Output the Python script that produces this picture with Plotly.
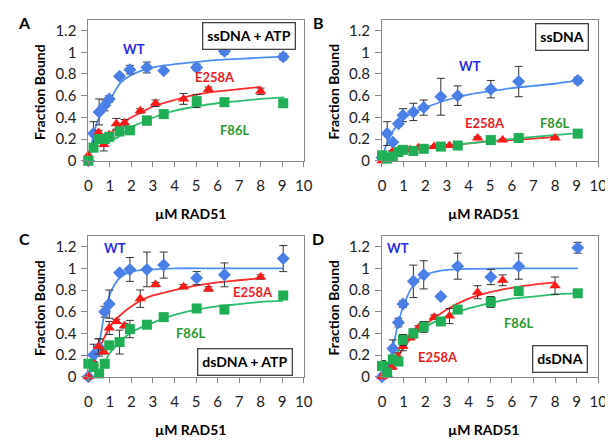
"""
RAD51 binding curves: fraction bound vs RAD51 concentration
four panels (ssDNA/dsDNA, with/without ATP)
"""

import plotly.graph_objects as go

# concentrations (uM)
X_WT = [0, 0.24, 0.5, 0.76, 0.97, 1.45, 1.93, 2.72, 3.5, 5.03, 6.32, 9.05]
X_E258A = [0, 0.24, 0.47, 0.72, 0.97, 1.3, 1.68, 2.41, 3.12, 4.42, 5.58, 8.0]
X_F86L = X_WT

# Panel A - ssDNA + ATP
A_WT = [0.0, 0.25, 0.45, 0.51, 0.57, 0.78, 0.84, 0.86, 0.83, 0.86, 1.01, 0.96]
A_WT_ERR = [0, 0.11, 0.12, 0.05, 0.03, 0.02, 0.04, 0.05, 0, 0.03, 0.03, 0.03]
A_E258A = [0.05, None, 0.26, 0.15, 0.24, 0.34, 0.35, 0.46, 0.53, 0.57, 0.66, 0.64]
A_E258A_ERR = [0.03, 0, 0.02, 0.06, 0.02, 0.05, 0.03, 0.02, 0.03, 0.05, 0.02, 0.03]
A_F86L = [0.0, 0.12, 0.20, 0.20, 0.22, 0.27, 0.28, 0.37, 0.43, 0.55, 0.54, 0.53]
A_F86L_ERR = [0, 0.02, 0.02, 0.02, 0.03, 0.02, 0.01, 0.04, 0.02, 0.06, 0.03, 0.02]

# Panel B - ssDNA
B_WT = [0.03, 0.25, 0.17, 0.34, 0.42, 0.45, 0.49, 0.59, 0.60, 0.66, 0.73, 0.74]
B_WT_ERR = [0, 0.11, 0.01, 0.02, 0.06, 0.08, 0.07, 0.17, 0.09, 0.08, 0.14, 0.03]
B_E258A = [0.0, 0.02, 0.08, 0.09, 0.10, 0.10, 0.12, 0.13, 0.14, 0.21, 0.19, 0.21]
B_E258A_ERR = [0.01] * 12
B_F86L = [0.05, 0.02, 0.04, 0.08, 0.10, 0.09, 0.11, 0.13, 0.14, 0.19, 0.21, 0.25]
B_F86L_ERR = [0.01] * 12

# Panel C - dsDNA + ATP
C_WT = [0.0, 0.20, 0.27, 0.60, 0.67, 0.96, 0.99, 0.99, 1.03, 0.91, 0.94, 1.09]
C_WT_ERR = [0, 0.10, 0.08, 0.05, 0.13, 0, 0.11, 0.16, 0.12, 0.06, 0.11, 0.12]
C_E258A = [0.0, 0.12, 0.28, 0.23, 0.45, 0.51, 0.47, 0.72, 0.85, 0.83, 0.81, 0.92]
C_E258A_ERR = [0, 0.02, 0.07, 0.02, 0.06, 0.02, 0.02, 0.08, 0.02, 0.02, 0.02, 0.02]
C_F86L = [0.12, 0.09, 0.03, 0.12, 0.29, 0.32, 0.44, 0.48, 0.55, 0.63, 0.62, 0.75]
C_F86L_ERR = [0.02, 0.02, 0.01, 0.02, 0.02, 0.11, 0.08, 0.02, 0.03, 0.02, 0.01, 0.02]

# Panel D - dsDNA
D_WT = [0.0, 0.08, 0.26, 0.50, 0.67, 0.88, 0.94, 0.74, 1.02, 0.92, 1.02, 1.19]
D_WT_ERR = [0, 0.05, 0.08, 0.04, 0.03, 0.15, 0.13, 0.02, 0.12, 0.07, 0.12, 0.05]
D_E258A = [0.0, 0.02, 0.09, 0.19, 0.28, 0.36, 0.45, 0.55, 0.56, 0.78, 0.89, 0.84]
D_E258A_ERR = [0.01, 0.01, 0.02, 0.03, 0.04, 0.02, 0.02, 0.02, 0.07, 0.06, 0.05, 0.08]
D_F86L = [0.10, 0.04, 0.16, 0.14, 0.34, 0.40, 0.46, 0.51, 0.62, 0.69, 0.79, 0.77]
D_F86L_ERR = [0.05, 0.02, 0.02, 0.02, 0.05, 0.04, 0.05, 0.01, 0.02, 0.05, 0.01, 0.01]

# fitted curves
A_WT_FIT_X = [0.1, 0.2, 0.35, 0.5, 0.75, 1, 1.5, 2, 3, 4, 5, 6, 7, 8, 9.1]
A_WT_FIT_Y = [0.08, 0.2, 0.32, 0.4, 0.49, 0.56, 0.72, 0.79, 0.86, 0.89, 0.91, 0.93, 0.94, 0.95, 0.96]
A_E258A_FIT_X = [0.75, 1, 1.5, 2, 2.5, 3, 4, 5, 6, 7, 8]
A_E258A_FIT_Y = [0.21, 0.25, 0.33, 0.4, 0.45, 0.5, 0.56, 0.61, 0.64, 0.66, 0.68]
A_F86L_FIT_X = [0.95, 1.4, 2, 2.8, 3.6, 5, 6, 7, 8, 9.1]
A_F86L_FIT_Y = [0.18, 0.22, 0.31, 0.38, 0.44, 0.5, 0.53, 0.55, 0.57, 0.585]

B_WT_FIT_X = [0, 0.25, 0.5, 1, 1.5, 2, 3, 4, 5, 6, 7, 8, 9.05]
B_WT_FIT_Y = [0.03, 0.17, 0.27, 0.39, 0.45, 0.49, 0.56, 0.61, 0.64, 0.67, 0.69, 0.71, 0.74]
B_E258A_FIT_X = [0, 0.5, 1, 2, 3, 4, 5, 6, 8]
B_E258A_FIT_Y = [0.02, 0.07, 0.09, 0.12, 0.14, 0.16, 0.18, 0.19, 0.22]
B_F86L_FIT_X = [0, 0.5, 1, 2, 3, 4, 5, 6, 7, 9.05]
B_F86L_FIT_Y = [0.03, 0.06, 0.09, 0.12, 0.14, 0.16, 0.18, 0.2, 0.22, 0.255]

C_WT_FIT_X = [0, 0.25, 0.5, 0.75, 1, 1.25, 1.5, 2, 2.5, 3, 4, 6, 9.05]
C_WT_FIT_Y = [0.01, 0.1, 0.3, 0.58, 0.76, 0.86, 0.92, 0.97, 0.985, 0.99, 1.0, 1.0, 1.0]
C_E258A_FIT_X = [0.2, 0.5, 1, 1.5, 2, 2.5, 3, 4, 5, 6, 7, 8]
C_E258A_FIT_Y = [0.13, 0.26, 0.46, 0.57, 0.65, 0.71, 0.75, 0.8, 0.84, 0.87, 0.89, 0.91]
C_F86L_FIT_X = [0.5, 0.75, 1, 1.5, 2, 2.5, 3, 4, 5, 6, 7, 8, 9.05]
C_F86L_FIT_Y = [0.04, 0.13, 0.22, 0.33, 0.41, 0.46, 0.5, 0.57, 0.62, 0.65, 0.67, 0.69, 0.70]

D_WT_FIT_X = [0, 0.25, 0.5, 0.75, 1, 1.5, 2, 2.5, 3, 4, 6, 9.05]
D_WT_FIT_Y = [0.0, 0.08, 0.27, 0.49, 0.66, 0.86, 0.94, 0.97, 0.985, 0.995, 1.0, 1.0]
D_E258A_FIT_X = [0.2, 0.5, 1, 1.5, 2, 3, 4, 5, 6, 7, 8]
D_E258A_FIT_Y = [0.02, 0.1, 0.27, 0.39, 0.48, 0.62, 0.72, 0.78, 0.82, 0.85, 0.87]
D_F86L_FIT_X = [0.5, 1, 1.5, 2, 3, 4, 5, 6, 7, 8, 9.05]
D_F86L_FIT_Y = [0.15, 0.31, 0.39, 0.46, 0.56, 0.63, 0.68, 0.72, 0.74, 0.76, 0.77]

PANEL_LETTERS = ['A', 'B', 'C', 'D']
CONDITIONS = ['ssDNA + ATP', 'ssDNA', 'dsDNA + ATP', 'dsDNA']
SERIES = ['WT', 'E258A', 'F86L']
X_TICKS = list(range(0, 11))
Y_TICKS = [0, 0.2, 0.4, 0.6, 0.8, 1, 1.2]

FONT = 'Lato'
W, H = 613, 445

MARKER_COLORS = {'WT': '#4a7fe8', 'E258A': '#ff1a1a', 'F86L': '#20ae55'}
LINE_COLORS = {'WT': '#4f8ff2', 'E258A': '#ff2a2a', 'F86L': '#2dbd6e'}
LABEL_COLORS = {'WT': '#2b2be6', 'E258A': '#ee1c24', 'F86L': '#2e9a2e'}
SYMBOLS = {'WT': 'diamond', 'E258A': 'triangle-up', 'F86L': 'square'}
SIZES = {'WT': 10, 'E258A': 10, 'F86L': 10}

panels = [
    dict(pts={'WT': (X_WT, A_WT, A_WT_ERR), 'E258A': (X_E258A, A_E258A, A_E258A_ERR),
              'F86L': (X_F86L, A_F86L, A_F86L_ERR)},
         fits={'WT': (A_WT_FIT_X, A_WT_FIT_Y), 'E258A': (A_E258A_FIT_X, A_E258A_FIT_Y),
               'F86L': (A_F86L_FIT_X, A_F86L_FIT_Y)},
         labels={'WT': (2.14, 1.03), 'E258A': (5.9, 0.77), 'F86L': (6.8, 0.28)},
         box=(7.45, 1.15)),
    dict(pts={'WT': (X_WT, B_WT, B_WT_ERR), 'E258A': (X_E258A, B_E258A, B_E258A_ERR),
              'F86L': (X_F86L, B_F86L, B_F86L_ERR)},
         fits={'WT': (B_WT_FIT_X, B_WT_FIT_Y), 'E258A': (B_E258A_FIT_X, B_E258A_FIT_Y),
               'F86L': (B_F86L_FIT_X, B_F86L_FIT_Y)},
         labels={'WT': (4.07, 0.87), 'E258A': (4.75, 0.35), 'F86L': (7.96, 0.35)},
         box=(8.33, 1.14)),
    dict(pts={'WT': (X_WT, C_WT, C_WT_ERR), 'E258A': (X_E258A, C_E258A, C_E258A_ERR),
              'F86L': (X_F86L, C_F86L, C_F86L_ERR)},
         fits={'WT': (C_WT_FIT_X, C_WT_FIT_Y), 'E258A': (C_E258A_FIT_X, C_E258A_FIT_Y),
               'F86L': (C_F86L_FIT_X, C_F86L_FIT_Y)},
         labels={'WT': (1.23, 1.19), 'E258A': (7.64, 0.78), 'F86L': (4.73, 0.40)},
         box=(7.27, 0.14)),
    dict(pts={'WT': (X_WT, D_WT, D_WT_ERR), 'E258A': (X_E258A, D_E258A, D_E258A_ERR),
              'F86L': (X_F86L, D_F86L, D_F86L_ERR)},
         fits={'WT': (D_WT_FIT_X, D_WT_FIT_Y), 'E258A': (D_E258A_FIT_X, D_E258A_FIT_Y),
               'F86L': (D_F86L_FIT_X, D_F86L_FIT_Y)},
         labels={'WT': (0.72, 1.19), 'E258A': (2.58, 0.18), 'F86L': (6.29, 0.50)},
         box=(8.24, 0.16)),
]

# plot-area pixel boxes (left, right, top, bottom)
BOXES = [(78, 298, 12, 155.5), (378, 599, 12, 155.5),
         (78, 298, 232, 375.5), (378, 599, 232, 375.5)]

fig = go.Figure()
annotations = []

for i, p in enumerate(panels):
    n = '' if i == 0 else str(i + 1)
    xa, ya = 'x' + n, 'y' + n

    for s in SERIES:
        fx, fy = p['fits'][s]
        fig.add_trace(go.Scatter(
            x=fx, y=fy, xaxis=xa, yaxis=ya, mode='lines',
            line=dict(color=LINE_COLORS[s], width=1.8, shape='spline', smoothing=0.8),
            showlegend=False, hoverinfo='skip'
        ))

    for s in SERIES:
        px_, py_, pe = p['pts'][s]
        fig.add_trace(go.Scatter(
            x=px_, y=py_, xaxis=xa, yaxis=ya, mode='markers', name=s,
            marker=dict(symbol=SYMBOLS[s], size=SIZES[s], color=MARKER_COLORS[s]),
            error_y=dict(type='data', array=pe, color='#333333', thickness=1, width=4),
            cliponaxis=False, showlegend=False
        ))

    for s in SERIES:
        lx, ly = p['labels'][s]
        annotations.append(dict(
            x=lx, y=ly, xref=xa, yref=ya, text='<b>%s</b>' % s, showarrow=False,
            xanchor='center', yanchor='middle',
            font=dict(family=FONT, size=13, color=LABEL_COLORS[s])
        ))

    bx, by = p['box']
    annotations.append(dict(
        x=bx, y=by, xref=xa, yref=ya, text='<b>%s</b>' % CONDITIONS[i], showarrow=False,
        xanchor='center', yanchor='middle',
        font=dict(family=FONT, size=14, color='black'),
        bordercolor='#444444', borderwidth=1.3, borderpad=4, bgcolor='white'
    ))

    left, right, top, bottom = BOXES[i]
    fig.layout['xaxis' + n] = dict(
        domain=[left / W, right / W], anchor=ya, range=[0, 10],
        tickvals=X_TICKS, ticks='outside', ticklen=5, tickcolor='#888888',
        ticklabelstandoff=6,
        showline=True, linecolor='#888888', linewidth=1, mirror=True,
        showgrid=False, zeroline=False,
        tickfont=dict(family=FONT, size=15, color='#222222')
    )
    fig.layout['yaxis' + n] = dict(
        domain=[1 - bottom / H, 1 - top / H], anchor=xa, range=[0, 1.3],
        tickvals=Y_TICKS, ticks='outside', ticklen=6, tickcolor='#888888',
        ticklabelstandoff=2,
        showline=True, linecolor='#888888', linewidth=1, mirror=True,
        showgrid=False, zeroline=False,
        tickfont=dict(family=FONT, size=15, color='#222222')
    )

    # panel letter, axis titles
    annotations.append(dict(
        x=(left - 65) / W, y=1 - (top + 3) / H, xref='paper', yref='paper',
        xanchor='center', yanchor='middle',
        text='<b>%s</b>' % PANEL_LETTERS[i], showarrow=False,
        font=dict(family=FONT, size=16, color='black')
    ))
    annotations.append(dict(
        x=(left - 50) / W, y=1 - (top + 73) / H, xref='paper', yref='paper',
        xanchor='center', yanchor='middle',
        text='<b>Fraction Bound</b>', textangle=-90, showarrow=False,
        font=dict(family=FONT, size=14, color='black')
    ))
    annotations.append(dict(
        x=(left + 104) / W, y=1 - (bottom + 54) / H, xref='paper', yref='paper',
        xanchor='center', yanchor='middle',
        text='<b>µM RAD51</b>', showarrow=False,
        font=dict(family=FONT, size=14, color='black')
    ))

fig.update_layout(
    width=W, height=H,
    margin=dict(l=0, r=0, t=0, b=0),
    plot_bgcolor='white', paper_bgcolor='white',
    annotations=annotations,
    showlegend=False
)

fig.write_html("out.html")
